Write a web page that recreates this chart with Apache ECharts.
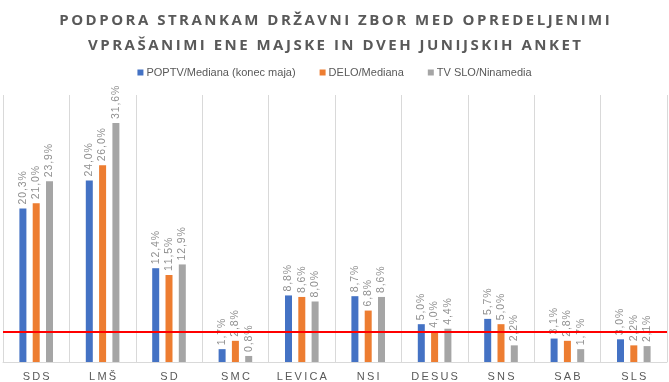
<!DOCTYPE html>
<html>
<head>
<meta charset="utf-8">
<script src="https://cdn.jsdelivr.net/npm/echarts@6/dist/echarts.min.js"></script>
<style>html,body{margin:0;padding:0;background:#fff}#c{width:669px;height:382px}</style>
</head>
<body>
<div id="c"></div>
<script>
const categories = ["SDS", "LMŠ", "SD", "SMC", "LEVICA", "NSI", "DESUS", "SNS", "SAB", "SLS"];
const seriesNames = ["POPTV/Mediana (konec maja)", "DELO/Mediana", "TV SLO/Ninamedia"];
const poptv = [20.3, 24.0, 12.4, 1.7, 8.8, 8.7, 5.0, 5.7, 3.1, 3.0];
const delo = [21.0, 26.0, 11.5, 2.8, 8.6, 6.8, 4.0, 5.0, 2.8, 2.2];
const tvslo = [23.9, 31.6, 12.9, 0.8, 8.0, 8.6, 4.4, 2.2, 1.7, 2.1];
const threshold = 4;
const titleLines = ["PODPORA STRANKAM DRŽAVNI ZBOR MED OPREDELJENIMI", "VPRAŠANIMI ENE MAJSKE IN DVEH JUNIJSKIH ANKET"];

const spread = (s, sp) => s.split('').join(sp);
const colors = ["#4472C4", "#ED7D31", "#A5A5A5"];
const chart = echarts.init(document.getElementById('c'), null, {renderer: 'canvas'});

function mkSeries(name, data, i) {
  const s = {
    name: name,
    type: 'bar',
    data: data,
    barWidth: 7,
    barGap: '90%',
    itemStyle: {color: colors[i]},
    label: {
      show: true,
      position: 'top',
      rotate: 90,
      align: 'left',
      verticalAlign: 'middle',
      distance: 4,
      color: '#8f8f8f',
      fontFamily: 'Liberation Sans',
      fontSize: 10.5,
      formatter: p => spread(p.value.toFixed(1).replace('.', ',') + '%', '\u200A')
    },
    animation: false
  };
  if (i === 2) {
    s.markLine = {
      symbol: 'none',
      silent: true,
      label: {show: false},
      lineStyle: {color: '#FF0000', width: 2, type: 'solid'},
      data: [{yAxis: threshold}]
    };
  }
  return s;
}

chart.setOption({
  animation: false,
  title: {
    text: titleLines.map(l => spread(l, '\u2009')).join('\n'),
    left: 'center',
    top: 3,
    textStyle: {
      fontFamily: 'Open Sans',
      fontWeight: 'bold',
      fontSize: 15,
      color: '#595959',
      lineHeight: 25
    }
  },
  legend: {
    top: 62,
    left: 'center',
    itemWidth: 6,
    itemHeight: 6,
    itemGap: 24,
    icon: 'rect',
    textStyle: {color: '#595959', fontFamily: 'Liberation Sans', fontSize: 11, padding: [0, 0, 0, -2]},
    data: seriesNames
  },
  grid: {left: 3, right: 2, top: 95, bottom: 20},
  xAxis: {
    type: 'category',
    data: categories,
    axisTick: {show: false},
    axisLine: {lineStyle: {color: '#d9d9d9'}},
    splitLine: {show: true, interval: 0, lineStyle: {color: '#d9d9d9', width: 1}},
    axisLabel: {
      color: '#595959',
      fontFamily: 'Liberation Sans',
      fontSize: 11,
      margin: 9,
      formatter: v => spread(v, '\u2009')
    }
  },
  yAxis: {
    type: 'value',
    min: 0,
    max: 35.3,
    show: false,
    splitLine: {show: false}
  },
  series: [mkSeries(seriesNames[0], poptv, 0), mkSeries(seriesNames[1], delo, 1), mkSeries(seriesNames[2], tvslo, 2)]
});
</script>
</body>
</html>
